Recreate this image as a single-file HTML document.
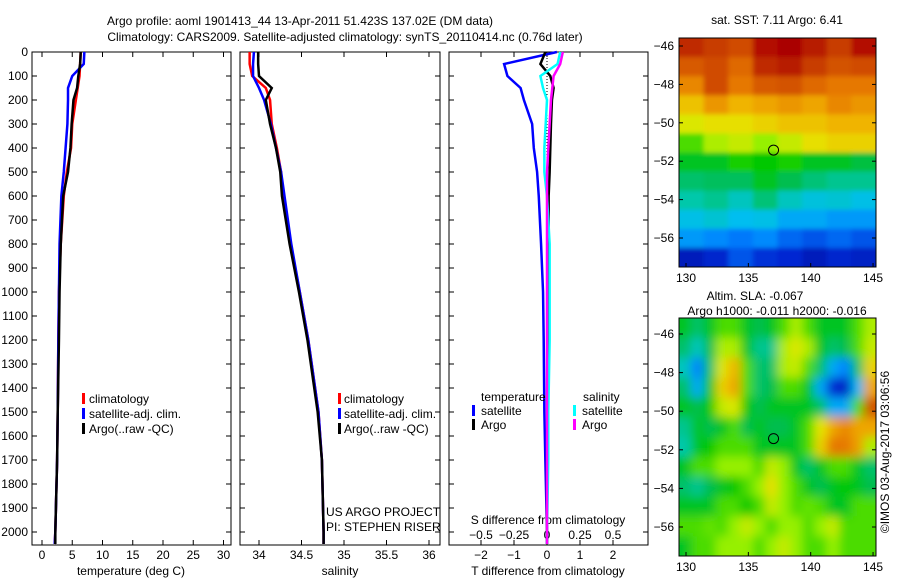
<!DOCTYPE html>
<html><head><meta charset="utf-8"><style>
body{margin:0;background:#fff}
svg{display:block;font-family:"Liberation Sans",sans-serif;font-size:12px}
</style></head><body>
<svg id="c" width="900" height="580" viewBox="0 0 900 580">
<text x="300" y="25" text-anchor="middle">Argo profile: aoml 1901413_44 13-Apr-2011 51.423S 137.02E (DM data)</text>
<text x="345" y="41" text-anchor="middle">Climatology: CARS2009. Satellite-adjusted climatology: synTS_20110414.nc (0.76d later)</text>
<g id="g"></g>
<text transform="translate(889,452) rotate(-90)" text-anchor="middle">©IMOS 03-Aug-2017 03:06:56</text>
</svg>
<script>
// ---- data ----
const depths=[0,50,100,150,200,300,400,500,600,800,1000,1200,1500,1700,2000,2050];
const tempClim=[6.4,6.3,6.2,5.9,5.6,5.0,4.8,4.1,3.6,3.1,2.8,2.7,2.6,2.5,2.2,2.1];
const tempSat=[7.0,6.9,5.0,4.3,4.3,4.2,3.9,3.6,3.2,2.9,2.8,2.7,2.6,2.5,2.2,2.1];
const tempArgo=[6.4,6.3,6.0,5.8,5.2,4.9,4.7,4.3,3.5,3.1,2.9,2.8,2.6,2.5,2.2,2.2];
const salClim=[33.89,33.89,33.92,34.08,34.13,34.15,34.21,34.26,34.28,34.37,34.48,34.58,34.70,34.74,34.76,34.76];
const salSat=[33.94,33.93,33.93,34.0,34.06,34.14,34.2,34.26,34.3,34.38,34.48,34.58,34.70,34.74,34.76,34.76];
const salArgo=[33.99,33.99,34.0,34.15,34.08,34.13,34.2,34.25,34.27,34.36,34.47,34.57,34.69,34.74,34.76,34.76];
const tdSat=[0.3,-1.3,-1.2,-0.8,-0.7,-0.45,-0.4,-0.3,-0.25,-0.18,-0.12,-0.1,-0.08,-0.05,0,0];
const tdArgo=[-0.05,-0.2,0.1,0.2,0.15,0.12,0.1,0.08,0.05,0.05,0.03,0.02,0.02,0,0,0];
const sdSat=[0.1,0.08,-0.05,-0.03,0.0,-0.01,-0.02,-0.02,0.0,0.02,0.02,0.02,0.01,0.01,0.0,0.0];
const sdArgo=[0.12,0.1,0.05,0.04,0.03,0.02,0.01,0.0,0.0,0.0,0.0,0.0,0.0,0.0,0.0,0.0];
const depthTicks=[0,100,200,300,400,500,600,700,800,900,1000,1100,1200,1300,1400,1500,1600,1700,1800,1900,2000];
const tempTicks=[0,5,10,15,20,25,30];
const salTicks=[34,34.5,35,35.5,36];
const tdTicks=[-2,-1,0,1,2];
const sdTicks=[-0.5,-0.25,0,0.25,0.5];
const latTicks=[-46,-48,-50,-52,-54,-56];
const lonTicks=[130,135,140,145];
const sst=[
[0.9,0.88,0.86,0.93,0.95,0.92,0.88,0.93],
[0.84,0.86,0.82,0.9,0.92,0.88,0.85,0.86],
[0.78,0.86,0.8,0.84,0.85,0.82,0.8,0.8],
[0.7,0.76,0.72,0.74,0.76,0.74,0.78,0.76],
[0.64,0.66,0.66,0.68,0.7,0.7,0.72,0.72],
[0.55,0.6,0.62,0.58,0.62,0.66,0.68,0.68],
[0.5,0.5,0.53,0.52,0.53,0.5,0.5,0.48],
[0.45,0.46,0.46,0.5,0.47,0.44,0.42,0.42],
[0.4,0.42,0.38,0.44,0.38,0.35,0.36,0.34],
[0.34,0.36,0.33,0.34,0.3,0.3,0.28,0.28],
[0.28,0.26,0.24,0.26,0.22,0.2,0.22,0.2],
[0.1,0.14,0.2,0.16,0.15,0.1,0.14,0.12]];
const sla=[
[.5,.45,.5,.55,.55,.5,.47,.5,.55,.6,.55,.5,.5,.5,.55,.6],
[.45,.38,.47,.6,.6,.5,.42,.42,.6,.64,.6,.5,.45,.47,.55,.62],
[.38,.25,.45,.64,.72,.55,.45,.45,.6,.62,.55,.45,.3,.25,.45,.68],
[.45,.3,.5,.68,.74,.55,.45,.47,.55,.55,.5,.3,.15,.12,.32,.74],
[.5,.47,.52,.62,.64,.52,.47,.5,.5,.5,.5,.45,.3,.3,.55,.85],
[.42,.5,.47,.5,.55,.47,.5,.47,.47,.5,.55,.65,.74,.78,.74,.74],
[.4,.5,.52,.55,.55,.55,.5,.5,.5,.5,.55,.68,.8,.8,.75,.6],
[.5,.55,.55,.58,.58,.58,.55,.62,.58,.5,.45,.5,.55,.55,.5,.45],
[.45,.42,.47,.5,.52,.55,.58,.66,.58,.55,.5,.47,.5,.52,.5,.47],
[.5,.5,.5,.55,.55,.52,.55,.62,.58,.55,.56,.55,.5,.5,.55,.55],
[.55,.55,.56,.55,.58,.62,.58,.55,.58,.58,.55,.58,.62,.55,.55,.55],
[.5,.55,.55,.58,.58,.58,.55,.58,.62,.58,.55,.55,.58,.55,.55,.55]];
const floatLon=137.02, floatLat=-51.42;

// ---- helpers ----
const NS="http://www.w3.org/2000/svg";const G=document.getElementById('g');
function mk(t,a,p){const e=document.createElementNS(NS,t);for(const k in a)e.setAttribute(k,a[k]);(p||G).appendChild(e);return e;}
const yD=d=>52+d*0.24;
const xT=v=>42+v*6.05, xS=v=>259+(v-34)*85, xTD=v=>547+v*33, xSD=v=>547+v*132;
const lonX=v=>686+(v-130)*12.47;
const lat1=v=>46+(-46-v)*19.2, lat2=v=>334+(-46-v)*19.3;

function panel(x0,x1,name){
  const r=mk('rect',{x:x0,y:52,width:x1-x0,height:493,fill:'none',stroke:'#000'});
  
  
  depthTicks.forEach(d=>{mk('line',{x1:x0,x2:x0+5,y1:yD(d),y2:yD(d),stroke:'#000'});mk('line',{x1:x1,x2:x1-5,y1:yD(d),y2:yD(d),stroke:'#000'});});
}
function xticks(ticks,f,lab,y){ticks.forEach(t=>{mk('line',{x1:f(t),x2:f(t),y1:545,y2:540,stroke:'#000'});mk('line',{x1:f(t),x2:f(t),y1:52,y2:57,stroke:'#000'});
 const tx=mk('text',{x:f(t),y:y||559,'text-anchor':'middle'});tx.textContent=(t<0?'\u2212'+(-t):t);});}
function line(vals,f,col,name){
  const p=mk('polyline',{points:vals.map((v,i)=>f(v)+','+yD(depths[i])).join(' '),fill:'none',stroke:col,'stroke-width':2.5});
  
  
}
function text(x,y,s,name,anchor){const t=mk('text',{x:x,y:y,'text-anchor':anchor||'start'});t.textContent=s;
  
  return t;}

depthTicks.forEach(d=>{text(28,yD(d)+4,String(d),'y-tick-label','end');});

// panel 1
panel(32,231,'temperature-panel');
xticks(tempTicks,xT);
line(tempClim,xT,'#f00','temp-climatology-line');
line(tempSat,xT,'#00f','temp-satellite-line');
line(tempArgo,xT,'#000','temp-argo-line');
text(131,575,'temperature (deg C)','x-axis-title','middle');
[['#f00','climatology'],['#00f','satellite-adj. clim.'],['#000','Argo(..raw -QC)']].forEach((e,i)=>{
  mk('rect',{x:82,y:393+i*15,width:3,height:11,fill:e[0]});text(89,403+i*15,e[1],'legend-entry');});

// panel 2
panel(240,440,'salinity-panel');
xticks(salTicks,xS);
line(salClim,xS,'#f00','sal-climatology-line');
line(salSat,xS,'#00f','sal-satellite-line');
line(salArgo,xS,'#000','sal-argo-line');
text(340,575,'salinity','x-axis-title','middle');
[['#f00','climatology'],['#00f','satellite-adj. clim.'],['#000','Argo(..raw -QC)']].forEach((e,i)=>{
  mk('rect',{x:338,y:393+i*15,width:3,height:11,fill:e[0]});text(344,403+i*15,e[1],'legend-entry');});
text(326,516,'US ARGO PROJECT','project-label');
text(326,531,'PI: STEPHEN RISER','pi-label');

// panel 3
panel(449,648,'difference-panel');
mk('line',{x1:547,x2:547,y1:52,y2:545,stroke:'#000','stroke-dasharray':'1,2'});
xticks(tdTicks,xTD);
sdTicks.forEach(t=>{mk('line',{x1:xSD(t),x2:xSD(t),y1:545,y2:540,stroke:'#000'});text(xSD(t),539,(t<0?'\u2212'+(-t):String(t)),'s-tick-label','middle');});
text(548,524,'S difference from climatology','s-axis-title','middle');
text(548,575,'T difference from climatology','x-axis-title','middle');
line(tdSat,xTD,'#00f','tdiff-satellite-line');
line(tdArgo,xTD,'#000','tdiff-argo-line');
line(sdSat,xSD,'#0ff','sdiff-satellite-line');
line(sdArgo,xSD,'#f0f','sdiff-argo-line');
text(481,401,'temperature','legend-title');text(583,401,'salinity','legend-title');
[['#00f','satellite',472],['#000','Argo',472],['#0ff','satellite',573],['#f0f','Argo',573]].forEach((e,i)=>{
  const r=i%2;mk('rect',{x:e[2],y:405+r*14,width:3,height:11,fill:e[0]});text(e[2]+9,415+r*14,e[1],'legend-entry');});

// colormap
const stops=[[0,0,0,140],[0.15,0,40,210],[0.25,0,130,255],[0.33,0,190,240],[0.4,0,200,170],[0.47,0,190,80],[0.52,0,200,0],[0.58,150,240,0],[0.65,230,230,0],[0.72,240,180,0],[0.8,230,120,0],[0.88,200,60,0],[0.95,170,0,0],[1,130,0,0]];
function cmap(v){v=Math.max(0,Math.min(1,v));for(let i=1;i<stops.length;i++){if(v<=stops[i][0]){const a=stops[i-1],b=stops[i],t=(v-a[0])/(b[0]-a[0]);
  return `rgb(${Math.round(a[1]+t*(b[1]-a[1]))},${Math.round(a[2]+t*(b[2]-a[2]))},${Math.round(a[3]+t*(b[3]-a[3]))})`;}}return 'rgb(130,0,0)';}
const defs=mk('defs',{});
const fl=mk('filter',{id:'bl',x:'-5%',y:'-5%',width:'110%',height:'110%'},defs);mk('feGaussianBlur',{stdDeviation:5},fl);
const fl2=mk('filter',{id:'bl2',x:'-5%',y:'-5%',width:'110%',height:'110%'},defs);mk('feGaussianBlur',{stdDeviation:2.5},fl2);
function map(grid,x0,y0,w,h,name,id,filt){
  const cp=mk('clipPath',{id:id},defs);mk('rect',{x:x0,y:y0,width:w,height:h},cp);
  const g=mk('g',{'clip-path':'url(#'+id+')'});
  
  
  const inner=mk('g',{filter:'url(#'+filt+')'},g);
  const nr=grid.length,nc=grid[0].length,cw=w/nc,ch=h/nr;
  grid.forEach((row,i)=>row.forEach((v,j)=>{
    mk('rect',{x:x0+j*cw-(j==0?10:0),y:y0+i*ch-(i==0?10:0),width:cw+1+(j==0||j==nc-1?10:0),height:ch+1+(i==0||i==nr-1?10:0),fill:cmap(v)},inner);}));
  mk('rect',{x:x0,y:y0,width:w,height:h,fill:'none',stroke:'#000'});
}
function mapAxes(y0,h,latF){
  latTicks.forEach(t=>{mk('line',{x1:679,x2:683,y1:latF(t),y2:latF(t),stroke:'#000'});mk('line',{x1:876,x2:872,y1:latF(t),y2:latF(t),stroke:'#000'});text(674,latF(t)+4,'\u2212'+(-t),'lat-tick-label','end');});
  lonTicks.forEach(t=>{mk('line',{x1:lonX(t),x2:lonX(t),y1:y0+h,y2:y0+h-4,stroke:'#000'});text(lonX(t),y0+h+15,String(t),'lon-tick-label','middle');});
}
map(sst,679,38,197,229,'sst-map','c1','bl2');mapAxes(38,229,lat1);
mk('circle',{cx:lonX(floatLon),cy:lat1(floatLat),r:5,fill:'none',stroke:'#000'});
text(777,24,'sat. SST: 7.11 Argo: 6.41','sst-title','middle');
map(sla,679,318,197,238,'sla-map','c2','bl');mapAxes(318,238,lat2);
mk('circle',{cx:lonX(floatLon),cy:lat2(floatLat),r:5,fill:'none',stroke:'#000'});
text(755,300,'Altim. SLA: -0.067','sla-title','middle');
text(777,315,'Argo h1000: -0.011 h2000: -0.016','sla-subtitle','middle');
</script>
</body></html>
